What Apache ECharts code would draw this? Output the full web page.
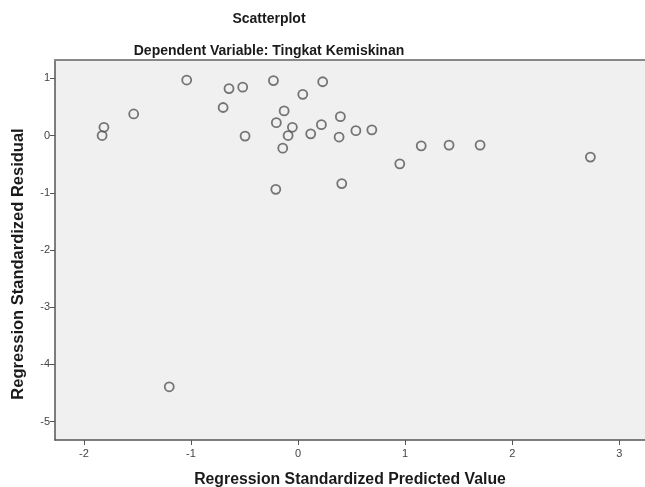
<!DOCTYPE html>
<html>
<head>
<meta charset="utf-8">
<script src="https://cdn.jsdelivr.net/npm/echarts@6/dist/echarts.min.js"></script>
<style>html,body{margin:0;padding:0;background:#fff}#c{width:645px;height:487px}</style>
</head>
<body>
<div id="c"></div>
<script>
var predicted = [-1.04,-0.645,-0.517,-0.23,0.23,0.044,-0.70,-1.535,-1.813,-1.83,-0.13,-0.203,-0.053,-0.093,-0.495,0.118,0.218,0.395,0.383,-0.143,-0.208,0.408,0.54,0.689,1.15,1.41,1.70,0.95,2.73,-1.203];
var residual  = [0.97,0.82,0.845,0.96,0.94,0.72,0.49,0.377,0.144,0.0,0.43,0.225,0.144,0.0,-0.01,0.03,0.19,0.33,-0.026,-0.22,-0.94,-0.84,0.085,0.10,-0.18,-0.167,-0.167,-0.495,-0.377,-4.39];
var xTicks = [-2,-1,0,1,2,3];
var yTicks = [1,0,-1,-2,-3,-4,-5];
var titleText = "Scatterplot";
var subtitleText = "Dependent Variable: Tingkat Kemiskinan";
var xName = "Regression Standardized Predicted Value";
var yName = "Regression Standardized Residual";

var pts = predicted.map(function(v,i){return [v, residual[i]];});
var chart = echarts.init(document.getElementById('c'));
var ff = '"Liberation Sans", Arial, sans-serif';
chart.setOption({
  animation:false,
  backgroundColor:'#ffffff',
  title:[
    {text:titleText,left:264,top:7,textAlign:'center',textStyle:{fontFamily:ff,fontSize:14,fontWeight:'bold',color:'#1a1a1a'}},
    {text:subtitleText,left:264,top:39,textAlign:'center',textStyle:{fontFamily:ff,fontSize:14,fontWeight:'bold',color:'#1a1a1a'}}
  ],
  grid:{left:55,top:60,right:0,bottom:47,show:true,backgroundColor:'#f0f0f0',borderWidth:0,outerBoundsMode:'none',containLabel:false},
  xAxis:[{
    type:'value',min:-2.27,max:3.24,
    name:xName,nameLocation:'middle',nameGap:32,
    nameTextStyle:{fontFamily:ff,fontSize:15.8,fontWeight:'bold',color:'#1a1a1a'},
    axisLine:{show:true,onZero:false,lineStyle:{color:'#555',width:1.5}},
    axisTick:{show:true,inside:false,length:5,customValues:xTicks,lineStyle:{color:'#555'}},
    axisLabel:{customValues:xTicks,fontFamily:ff,fontSize:11,color:'#444',margin:8},
    splitLine:{show:false}
  },{
    type:'value',position:'top',min:-2.27,max:3.24,
    axisLine:{show:true,onZero:false,lineStyle:{color:'#888',width:2}},
    axisTick:{show:false},axisLabel:{show:false},splitLine:{show:false}
  }],
  yAxis:{
    type:'value',min:-5.32,max:1.32,
    name:yName,nameLocation:'middle',nameGap:28,nameRotate:90,
    nameTextStyle:{fontFamily:ff,fontSize:16.5,fontWeight:'bold',color:'#1a1a1a',padding:[0,28,0,0]},
    axisLine:{show:true,onZero:false,lineStyle:{color:'#555',width:1.5}},
    axisTick:{show:true,inside:false,length:5,customValues:yTicks,lineStyle:{color:'#555'}},
    axisLabel:{customValues:yTicks,fontFamily:ff,fontSize:11,color:'#444',margin:5},
    splitLine:{show:false}
  },
  series:[{
    type:'scatter',data:pts,symbol:'circle',symbolSize:9,xAxisIndex:0,
    itemStyle:{color:'rgba(0,0,0,0)',borderColor:'#555',borderWidth:1.8}
  }]
});
</script>
</body>
</html>
